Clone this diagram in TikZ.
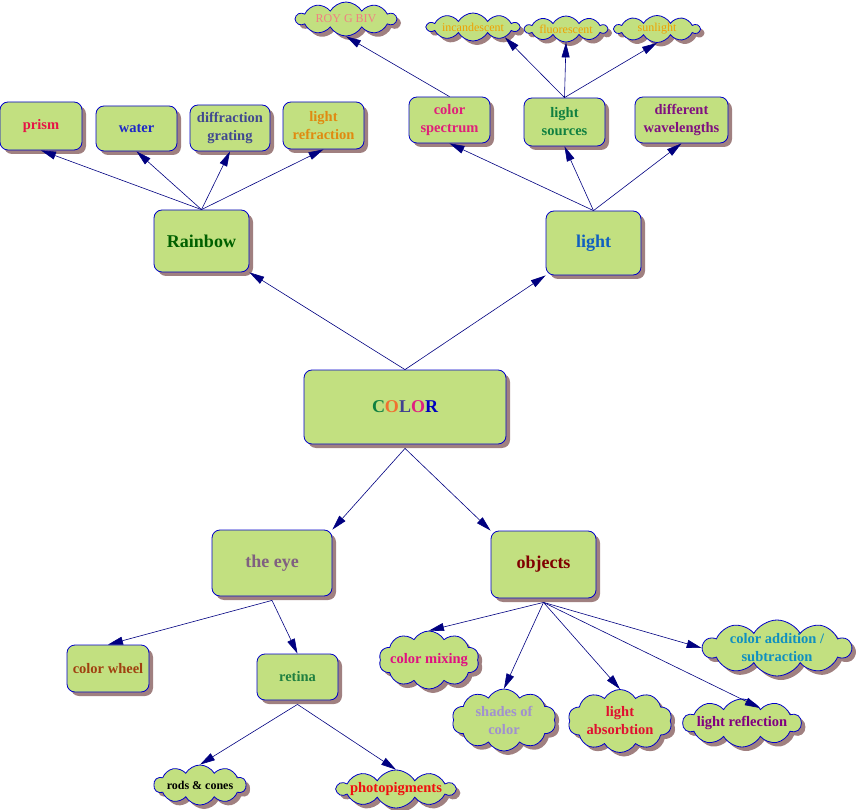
\documentclass[tikz,border=0pt]{standalone}
\usepackage{fontspec}
\setmainfont{Liberation Serif}
\usetikzlibrary{shapes.symbols,shadows,arrows.meta}
\definecolor{boxfill}{RGB}{194,224,128}
\definecolor{boxline}{RGB}{0,0,200}
\definecolor{shadowc}{RGB}{160,128,128}
\definecolor{navy}{RGB}{0,0,128}
\definecolor{cPrism}{RGB}{230,20,70}
\definecolor{cWater}{RGB}{30,40,200}
\definecolor{cDiff}{RGB}{64,72,144}
\definecolor{cRefr}{RGB}{224,138,16}
\definecolor{cSpec}{RGB}{224,32,122}
\definecolor{cSrc}{RGB}{16,128,64}
\definecolor{cWave}{RGB}{128,16,128}
\definecolor{cRain}{RGB}{0,96,0}
\definecolor{cLight}{RGB}{16,96,192}
\definecolor{cC}{RGB}{16,128,64}
\definecolor{cO}{RGB}{240,112,48}
\definecolor{cL}{RGB}{64,64,144}
\definecolor{cO2}{RGB}{224,32,128}
\definecolor{cR}{RGB}{0,0,192}
\definecolor{cEye}{RGB}{128,96,128}
\definecolor{cObj}{RGB}{128,0,0}
\definecolor{cWheel}{RGB}{160,64,16}
\definecolor{cRet}{RGB}{32,128,64}
\definecolor{cPhoto}{RGB}{240,16,16}
\definecolor{cMix}{RGB}{224,16,128}
\definecolor{cShade}{RGB}{160,144,208}
\definecolor{cAbs}{RGB}{224,16,48}
\definecolor{cRefl}{RGB}{128,0,128}
\definecolor{cAdd}{RGB}{16,144,192}
\definecolor{cRoy}{RGB}{240,128,128}
\definecolor{cSrcs}{RGB}{240,160,0}
\tikzset{
  shad/.style={drop shadow={shadow xshift=4pt,shadow yshift=-4pt,fill=shadowc,opacity=1}},
  box/.style={shad, draw=boxline, fill=boxfill, line width=0.8pt, rounded corners=8pt,
    inner sep=2pt, align=center, font=\fontsize{14.5}{18}\selectfont\bfseries},
  bigbox/.style={box, font=\fontsize{18}{21}\selectfont\bfseries},
  cl/.style={shad, cloud, cloud puffs=10, cloud puff arc=120, cloud ignores aspect,
    draw=boxline, fill=boxfill, line width=0.8pt, inner sep=0pt},
  cltext/.style={align=center, font=\fontsize{14.5}{18}\selectfont\bfseries},
  cltop/.style={align=center, font=\fontsize{12}{14}\selectfont},
  conn/.style={draw=navy, line width=0.6pt, -{Triangle[length=15pt,width=8pt]}}
}
\begin{document}
\begin{tikzpicture}[x=1pt,y=-1pt]
\useasboundingbox (0,0) rectangle (857,810);
% top row boxes
\node[box, minimum width=82pt, minimum height=48pt, text=cPrism] (prism) at (41,126) {prism};
\node[box, minimum width=81pt, minimum height=45pt, text=cWater] (water) at (136.5,128.5) {water};
\node[box, minimum width=80pt, minimum height=46pt, text=cDiff] (diff) at (230,128) {diffraction\\grating};
\node[box, minimum width=81pt, minimum height=47pt, text=cRefr] (refr) at (323.5,125.5) {light\\refraction};
\node[box, minimum width=81pt, minimum height=46pt, text=cSpec] (spec) at (449.5,120) {color\\spectrum};
\node[box, minimum width=81pt, minimum height=48pt, text=cSrc] (src) at (564.5,122) {light\\sources};
\node[box, minimum width=93pt, minimum height=46pt, text=cWave] (wave) at (681.5,120) {different\\wavelengths};
% main boxes
\node[bigbox, minimum width=95pt, minimum height=62pt, text=cRain] (rain) at (201.5,241) {Rainbow};
\node[bigbox, minimum width=95pt, minimum height=64pt, text=cLight] (light) at (593.5,243) {light};
\node[bigbox, minimum width=202pt, minimum height=74pt] (color) at (405,407)
  {\textcolor{cC}{C}\textcolor{cO}{O}\textcolor{cL}{L}\textcolor{cO2}{O}\textcolor{cR}{R}};
\node[bigbox, minimum width=120pt, minimum height=66pt, text=cEye] (eye) at (272,563) {the eye};
\node[bigbox, minimum width=105pt, minimum height=67pt, text=cObj] (obj) at (543.5,564.5) {objects};
\node[box, minimum width=82pt, minimum height=47pt, text=cWheel] (wheel) at (108,668.5) {color wheel};
\node[box, minimum width=81pt, minimum height=46pt, text=cRet] (ret) at (297.5,677) {retina};
% top clouds
\node[cl, minimum width=100pt, minimum height=34pt, label={[cltop, text=cRoy]center:ROY G BIV}] (roy) at (346,19) {};
\node[cl, minimum width=92pt, minimum height=28pt, label={[cltop, text=cSrcs]center:incandescent}] (inc) at (473,27) {};
\node[cl, minimum width=82pt, minimum height=26pt, label={[cltop, text=cSrcs]center:fluorescent}] (flu) at (566,29) {};
\node[cl, minimum width=85pt, minimum height=27pt, label={[cltop, text=cSrcs]center:sunlight}] (sun) at (657,29) {};
% bottom clouds
\node[cl, minimum width=100pt, minimum height=58pt, label={[cltext, text=cMix]center:color mixing}] (mix) at (429,660) {};
\node[cl, minimum width=104pt, minimum height=62pt, label={[cltext, text=cShade]center:{shades of\\color}}] (shade) at (504,720) {};
\node[cl, minimum width=104pt, minimum height=63pt, label={[cltext, text=cAbs]center:{light\\absorbtion}}] (abs) at (620,721) {};
\node[cl, minimum width=118pt, minimum height=48pt, label={[cltext, text=cRefl]center:light reflection}] (refl) at (742,723) {};
\node[cl, minimum width=148pt, minimum height=56pt, label={[cltext, text=cAdd]center:{color addition /\\subtraction}}] (add) at (777,648) {};
\node[cl, minimum width=92pt, minimum height=40pt, label={[align=center, font=\fontsize{12}{14}\selectfont\bfseries, text=black]center:rods \& cones}] (rods) at (200,785) {};
\node[cl, minimum width=118pt, minimum height=38pt, label={[cltext, text=cPhoto]center:photopigments}] (photo) at (396,789) {};
% connectors
\draw[conn] (color.north) -- (rain.south east);
\draw[conn] (color.north) -- (light.south west);
\draw[conn] (rain.north) -- (prism.south);
\draw[conn] (rain.north) -- (water.south);
\draw[conn] (rain.north) -- (diff.south);
\draw[conn] (rain.north) -- (refr.south);
\draw[conn] (light.north) -- (spec.south);
\draw[conn] (light.north) -- (src.south);
\draw[conn] (light.north) -- (wave.south);
\draw[conn] (spec.north) -- (roy.south);
\draw[conn] (src.north) -- (inc.-18);
\draw[conn] (src.north) -- (flu.south);
\draw[conn] (src.north) -- (sun.south);
\draw[conn] ([yshift=-4pt]color.south) -- (eye.north east);
\draw[conn] ([yshift=-4pt]color.south) -- (obj.north west);
\draw[conn] ([yshift=-4pt]eye.south) -- (wheel.north);
\draw[conn] ([yshift=-4pt]eye.south) -- (ret.north);
\draw[conn] ([yshift=-4pt]ret.south) -- (rods.north);
\draw[conn] ([yshift=-4pt]ret.south) -- (photo.north);
\draw[conn] ([yshift=-4pt]obj.south) -- (mix.north);
\draw[conn] ([yshift=-4pt]obj.south) -- (shade.north);
\draw[conn] ([yshift=-4pt]obj.south) -- (abs.north);
\draw[conn] ([yshift=-4pt]obj.south) -- (add.west);
\draw[conn] ([yshift=-4pt]obj.south) -- (refl.40);
\end{tikzpicture}
\end{document}
